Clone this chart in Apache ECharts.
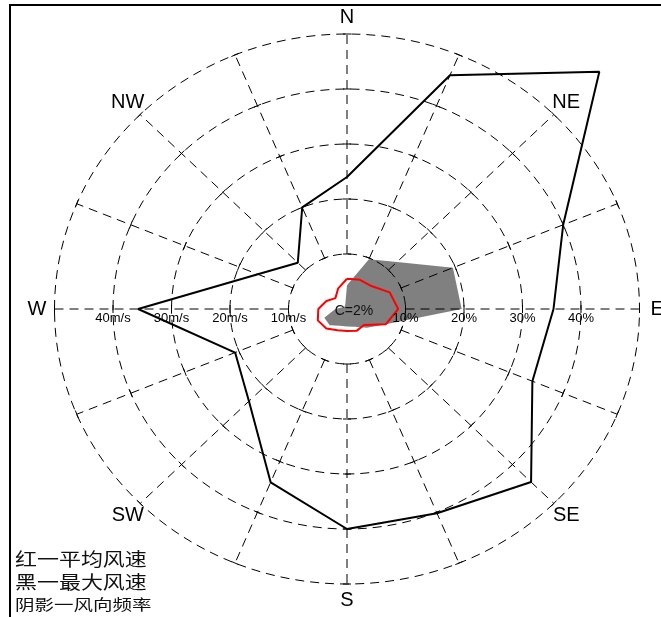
<!DOCTYPE html>
<html>
<head>
<meta charset="utf-8">
<script src="https://cdn.jsdelivr.net/npm/echarts@6/dist/echarts.min.js"></script>
<style>
  html, body { margin: 0; padding: 0; background: #fff; }
  #chart { width: 661px; height: 617px; }
</style>
</head>
<body>
<div id="chart"></div>
<script>
// Sixteen compass sectors, clockwise from north
const directions = ['N', 'NNE', 'NE', 'ENE', 'E', 'ESE', 'SE', 'SSE',
                    'S', 'SSW', 'SW', 'WSW', 'W', 'WNW', 'NW', 'NNW'];
// Names printed around the rose (every second sector)
const compassNames = ['N', 'NE', 'E', 'SE', 'S', 'SW', 'W', 'NW'];

// Maximum wind speed per sector (m/s)
const maxSpeed = [24, 46, 61, 40, 35.3, 34.3, 44.5, 40.2, 40, 34.1, 23.7, 20.7, 35.7, 16.5, 11.9, 20];
// Mean wind speed per sector (m/s)
const meanSpeed = [5.5, 5.75, 5.9, 7.9, 8.75, 7.2, 4.1, 4.3, 4.0, 4.2, 5.0, 5.4, 4.9, 3.8, 2.8, 4.0];
// Wind direction frequency per sector (%)
const frequency = [4.3, 9.8, 12.1, 19.6, 19.6, 7.2, 4.8, 3.5, 3.2, 3.3, 4.2, 4.2, 2.0, 0.8, 0.6, 0.8];

// Rings of the rose and their labels
const ringValues = [10, 20, 30, 40, 50];
const scaleValues = [10, 20, 30, 40];
const speedTickLabels = ['10m/s', '20m/s', '30m/s', '40m/s'];
const freqTickLabels = ['10%', '20%', '30%', '40%'];
const calmText = 'C=2%';
const legendLines = ['红一平均风速', '黑一最大风速', '阴影一风向频率'];

const LABEL_R = 53;
const TICK = 4;
const DASH = [9, 6];
const LATIN = '"Liberation Sans", Arial, sans-serif';
const CJK = '"Noto Sans CJK SC", sans-serif';

const STEP = Math.PI * 2 / directions.length;
function toXY(i, v) {
  const a = i * STEP;
  return [v * Math.sin(a), v * Math.cos(a)];
}
function closedPath(values) {
  const pts = values.map((v, i) => toXY(i, v));
  pts.push(pts[0]);
  return pts;
}

// scale labels: frequency on the east spoke, speed on the west spoke
const scaleLabelData = scaleValues.map((v, k) => [v, 0, k, 0])
  .concat(scaleValues.map((v, k) => [-v, 0, k, 1]));

const chart = echarts.init(document.getElementById('chart'), null, { renderer: 'canvas' });

const option = {
  animation: false,
  backgroundColor: '#fff',
  grid: { left: 54.5, right: 21.5, top: 34, bottom: 33, containLabel: false },
  xAxis: { type: 'value', min: -50, max: 50, show: false },
  yAxis: { type: 'value', min: -50, max: 50, show: false },
  graphic: [
    {
      type: 'rect', z: 0, silent: true,
      shape: { x: 10, y: 5, width: 720, height: 720 },
      style: { fill: 'none', stroke: '#000', lineWidth: 2 }
    },
    {
      type: 'text', x: 15, y: 559, scaleX: 1.22, silent: true,
      style: { text: legendLines[0], font: '18px ' + CJK, fill: '#111', verticalAlign: 'middle' }
    },
    {
      type: 'text', x: 15, y: 582, scaleX: 1.22, silent: true,
      style: { text: legendLines[1], font: '18px ' + CJK, fill: '#111', verticalAlign: 'middle' }
    },
    {
      type: 'text', x: 15, y: 604, scaleX: 1.3, silent: true,
      style: { text: legendLines[2], font: '15px ' + CJK, fill: '#111', verticalAlign: 'middle' }
    }
  ],
  series: [
    // shaded direction frequency
    {
      type: 'custom', coordinateSystem: 'cartesian2d', z: 1, silent: true,
      data: frequency.map((v, i) => toXY(i, v)),
      renderItem: function (params, api) {
        if (params.dataIndex !== 0) return;
        const pts = frequency.map((v, i) => api.coord(toXY(i, v)));
        return { type: 'polygon', shape: { points: pts }, style: { fill: '#808080' } };
      }
    },
    // dashed rings
    {
      type: 'custom', coordinateSystem: 'cartesian2d', z: 2, silent: true,
      data: ringValues.map(r => [0, 0, r]),
      encode: { x: 0, y: 1 },
      renderItem: function (params, api) {
        const r = api.value(2);
        const c = api.coord([0, 0]);
        const s = api.size([r, r]);
        return {
          type: 'ellipse',
          shape: { cx: c[0], cy: c[1], rx: s[0], ry: s[1] },
          style: { fill: 'none', stroke: '#000', lineWidth: 1, lineDash: DASH }
        };
      }
    },
    // dashed spokes with ring ticks
    {
      type: 'custom', coordinateSystem: 'cartesian2d', z: 2, silent: true,
      data: directions.map((d, i) => toXY(i, ringValues[ringValues.length - 1]).concat([i])),
      encode: { x: 0, y: 1 },
      renderItem: function (params, api) {
        const i = api.value(2);
        const c = api.coord([0, 0]);
        const inner = api.coord(toXY(i, ringValues[0]));
        const outer = api.coord(toXY(i, ringValues[ringValues.length - 1]));
        const children = [{
          type: 'line',
          shape: { x1: inner[0], y1: inner[1], x2: outer[0], y2: outer[1] },
          style: { stroke: '#000', lineWidth: 1, lineDash: DASH }
        }];
        ringValues.forEach(function (r) {
          const p = api.coord(toXY(i, r));
          let dx = p[0] - c[0], dy = p[1] - c[1];
          const L = Math.hypot(dx, dy);
          dx /= L; dy /= L;
          children.push({
            type: 'line',
            shape: { x1: p[0] - dy * TICK, y1: p[1] + dx * TICK, x2: p[0] + dy * TICK, y2: p[1] - dx * TICK },
            style: { stroke: '#000', lineWidth: 1 }
          });
        });
        return { type: 'group', children: children };
      }
    },
    // scale labels along the east-west line
    {
      type: 'custom', coordinateSystem: 'cartesian2d', z: 5, silent: true,
      data: scaleLabelData,
      encode: { x: 0, y: 1 },
      renderItem: function (params, api) {
        const p = api.coord([api.value(0), api.value(1)]);
        const k = api.value(2);
        const text = api.value(3) === 0 ? freqTickLabels[k] : speedTickLabels[k];
        return {
          type: 'text', x: p[0], y: p[1] + 3,
          style: { text: text, fill: '#000', font: '13px ' + LATIN, align: 'center', verticalAlign: 'top' }
        };
      }
    },
    // compass names
    {
      type: 'custom', coordinateSystem: 'cartesian2d', z: 5, silent: true,
      data: compassNames.map((n, k) => toXY(k * 2, LABEL_R).concat([k])),
      encode: { x: 0, y: 1 },
      renderItem: function (params, api) {
        const p = api.coord([api.value(0), api.value(1)]);
        return {
          type: 'text', x: p[0], y: p[1],
          style: {
            text: compassNames[api.value(2)], fill: '#000', font: '20px ' + LATIN,
            align: 'center', verticalAlign: 'middle'
          }
        };
      }
    },
    // calm percentage in the centre
    {
      type: 'custom', coordinateSystem: 'cartesian2d', z: 5, silent: true,
      data: [[0, 0]],
      renderItem: function (params, api) {
        const p = api.coord([0, 0]);
        return {
          type: 'text', x: p[0] + 7, y: p[1] + 2,
          style: { text: calmText, fill: '#111', font: '14px ' + LATIN, align: 'center', verticalAlign: 'middle' }
        };
      }
    },
    // mean wind speed
    {
      type: 'line', z: 3, silent: true, symbol: 'none',
      data: closedPath(meanSpeed),
      lineStyle: { color: '#ff0000', width: 2 }
    },
    // maximum wind speed
    {
      type: 'line', z: 4, silent: true, symbol: 'none', clip: false,
      data: closedPath(maxSpeed),
      lineStyle: { color: '#000', width: 2 }
    }
  ]
};

chart.setOption(option);
</script>
</body>
</html>
